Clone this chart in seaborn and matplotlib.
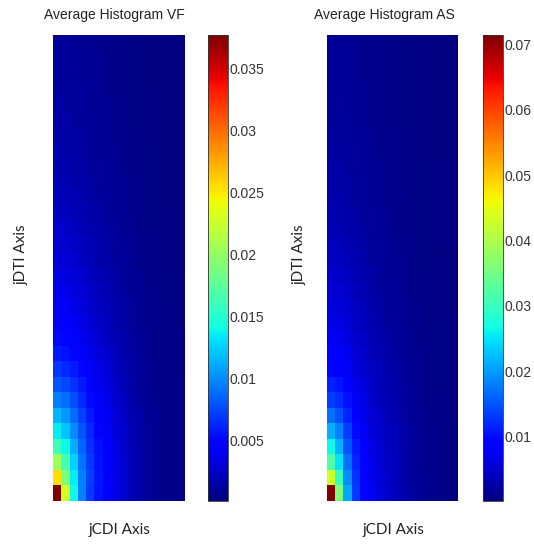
import numpy as np
import seaborn as sns
import matplotlib
matplotlib.use('Agg')
import matplotlib.pyplot as plt

# average 2D histograms in units of 1e-4
# rows go top -> bottom (jDTI), columns left -> right (jCDI)
VF_HIST = [
    [10, 10, 9, 8, 7, 6, 5, 5, 4, 3, 3, 2, 2, 1, 1, 1],
    [10, 10, 9, 9, 8, 7, 6, 5, 4, 3, 3, 2, 2, 2, 1, 1],
    [11, 11, 10, 9, 8, 7, 6, 5, 4, 4, 3, 2, 2, 2, 1, 1],
    [12, 11, 11, 10, 9, 7, 6, 5, 5, 4, 3, 3, 2, 2, 1, 1],
    [13, 12, 11, 10, 9, 8, 7, 6, 5, 4, 3, 3, 2, 2, 1, 1],
    [14, 13, 12, 11, 10, 8, 7, 6, 5, 4, 3, 3, 2, 2, 1, 1],
    [15, 14, 13, 12, 10, 9, 8, 6, 5, 4, 4, 3, 2, 2, 2, 1],
    [16, 15, 14, 13, 11, 9, 8, 7, 6, 5, 4, 3, 3, 2, 2, 1],
    [17, 16, 15, 14, 12, 10, 9, 7, 6, 5, 4, 3, 3, 2, 2, 1],
    [19, 18, 17, 15, 13, 11, 9, 8, 7, 6, 4, 4, 3, 2, 2, 1],
    [21, 20, 19, 17, 14, 12, 10, 9, 7, 6, 5, 4, 3, 2, 2, 2],
    [23, 22, 20, 18, 16, 13, 11, 9, 8, 6, 5, 4, 3, 3, 2, 2],
    [26, 25, 23, 20, 17, 15, 12, 10, 8, 7, 5, 4, 3, 3, 2, 2],
    [28, 27, 25, 22, 19, 16, 13, 11, 9, 7, 6, 5, 4, 3, 2, 2],
    [31, 29, 27, 24, 21, 17, 15, 12, 10, 8, 6, 5, 4, 3, 2, 2],
    [34, 32, 30, 26, 23, 19, 16, 13, 11, 9, 7, 5, 4, 3, 3, 2],
    [38, 36, 33, 29, 25, 21, 18, 15, 12, 9, 7, 6, 4, 3, 3, 2],
    [42, 40, 36, 32, 27, 23, 19, 16, 13, 10, 8, 6, 5, 4, 3, 2],
    [47, 44, 40, 35, 30, 25, 21, 17, 14, 11, 8, 6, 5, 4, 3, 2],
    [52, 49, 45, 39, 33, 28, 23, 19, 15, 12, 9, 7, 5, 4, 3, 3],
    [58, 55, 50, 44, 37, 31, 26, 21, 17, 13, 10, 7, 5, 4, 3, 3],
    [68, 64, 58, 50, 42, 35, 29, 23, 18, 14, 10, 8, 6, 4, 3, 3],
    [80, 75, 67, 57, 47, 39, 32, 26, 20, 15, 11, 8, 6, 5, 4, 3],
    [95, 88, 77, 64, 52, 43, 35, 28, 22, 17, 12, 9, 6, 5, 4, 3],
    [115, 104, 88, 72, 58, 47, 38, 31, 24, 18, 13, 9, 7, 5, 4, 3],
    [135, 120, 100, 80, 63, 50, 41, 33, 26, 19, 14, 10, 7, 5, 4, 3],
    [160, 140, 112, 86, 67, 53, 43, 35, 27, 20, 14, 10, 7, 5, 4, 3],
    [205, 165, 125, 92, 70, 55, 45, 36, 28, 21, 15, 10, 7, 5, 4, 3],
    [255, 190, 135, 95, 72, 56, 45, 36, 28, 21, 15, 10, 7, 5, 4, 3],
    [377, 230, 140, 95, 70, 55, 45, 35, 28, 21, 14, 10, 7, 5, 4, 3],
]

AS_HIST = [
    [16, 16, 15, 14, 12, 11, 10, 8, 7, 6, 5, 4, 3, 3, 2, 2],
    [17, 16, 16, 14, 13, 11, 10, 9, 7, 6, 5, 4, 4, 3, 2, 2],
    [18, 17, 16, 15, 13, 12, 10, 9, 8, 7, 5, 4, 4, 3, 2, 2],
    [19, 18, 17, 16, 14, 12, 11, 9, 8, 7, 6, 5, 4, 3, 2, 2],
    [20, 19, 18, 16, 15, 13, 11, 10, 8, 7, 6, 5, 4, 3, 3, 2],
    [21, 20, 19, 17, 15, 13, 12, 10, 9, 7, 6, 5, 4, 3, 3, 2],
    [22, 21, 20, 18, 16, 14, 12, 11, 9, 8, 6, 5, 4, 3, 3, 2],
    [24, 23, 22, 20, 17, 15, 13, 11, 10, 8, 7, 5, 4, 4, 3, 2],
    [26, 25, 23, 21, 18, 16, 14, 12, 10, 8, 7, 6, 5, 4, 3, 2],
    [28, 27, 25, 22, 19, 17, 14, 12, 10, 9, 7, 6, 5, 4, 3, 2],
    [31, 30, 27, 24, 21, 18, 15, 13, 11, 9, 7, 6, 5, 4, 3, 3],
    [34, 32, 29, 26, 22, 19, 16, 14, 12, 10, 8, 6, 5, 4, 3, 3],
    [37, 35, 32, 28, 24, 20, 17, 15, 12, 10, 8, 7, 5, 4, 3, 3],
    [41, 39, 35, 30, 26, 22, 19, 16, 13, 11, 9, 7, 6, 4, 4, 3],
    [45, 43, 38, 33, 28, 24, 20, 17, 14, 11, 9, 7, 6, 5, 4, 3],
    [50, 47, 42, 36, 31, 26, 22, 18, 15, 12, 10, 8, 6, 5, 4, 3],
    [56, 53, 47, 40, 34, 28, 24, 20, 16, 13, 10, 8, 6, 5, 4, 3],
    [61, 58, 51, 44, 37, 31, 26, 21, 17, 14, 11, 9, 7, 5, 4, 3],
    [68, 64, 56, 48, 40, 33, 28, 23, 19, 15, 12, 9, 7, 6, 5, 4],
    [75, 70, 62, 52, 44, 36, 30, 25, 20, 16, 13, 10, 8, 6, 5, 4],
    [85, 79, 69, 57, 48, 40, 33, 27, 22, 18, 14, 11, 8, 6, 5, 4],
    [96, 89, 77, 63, 52, 44, 36, 30, 24, 19, 15, 11, 9, 7, 5, 4],
    [115, 105, 88, 71, 58, 48, 40, 33, 26, 21, 16, 12, 9, 7, 5, 4],
    [135, 122, 100, 79, 64, 52, 43, 35, 28, 22, 17, 13, 10, 8, 6, 4],
    [170, 148, 117, 89, 71, 57, 47, 38, 31, 24, 18, 14, 10, 8, 6, 4],
    [215, 180, 135, 99, 77, 62, 50, 41, 33, 26, 19, 14, 11, 8, 6, 5],
    [265, 215, 152, 108, 83, 66, 53, 43, 34, 27, 20, 15, 11, 8, 6, 5],
    [320, 250, 170, 117, 88, 69, 56, 45, 36, 28, 21, 15, 11, 9, 7, 5],
    [430, 300, 190, 125, 92, 72, 58, 47, 37, 29, 21, 16, 12, 9, 7, 5],
    [714, 360, 210, 130, 95, 75, 60, 48, 38, 30, 22, 16, 12, 9, 7, 5],
]

VF_TICKS = [0.005, 0.01, 0.015, 0.02, 0.025, 0.03, 0.035]
VF_LABELS = ['0.005', '0.01', '0.015', '0.02', '0.025', '0.03', '0.035']
AS_TICKS = [0.01, 0.02, 0.03, 0.04, 0.05, 0.06, 0.07]
AS_LABELS = ['0.01', '0.02', '0.03', '0.04', '0.05', '0.06', '0.07']

TITLES = ['Average Histogram VF', 'Average Histogram AS']
XLABEL = 'jCDI Axis'
YLABEL = 'jDTI Axis'

sns.set_style('white')
plt.rcParams['font.family'] = ['Liberation Sans', 'DejaVu Sans']

W, H = 534, 544
fig = plt.figure(figsize=(W / 100, H / 100), dpi=100)


def px_axes(x0, x1, y0, y1):
    return fig.add_axes([x0 / W, (H - y1) / H, (x1 - x0) / W, (y1 - y0) / H])


panels = [
    (VF_HIST, VF_TICKS, VF_LABELS, (53, 185), (208, 228), 22, 120, 114),
    (AS_HIST, AS_TICKS, AS_LABELS, (327, 458), (483, 503), 300, 393, 384),
]

for i, (hist, ticks, labels, hx, cx, ylab_x, xlab_x, title_x) in enumerate(panels):
    ax = px_axes(hx[0], hx[1], 35, 501)
    cax = px_axes(cx[0], cx[1], 35, 501)
    data = np.array(hist) * 1e-4
    sns.heatmap(data, cmap='jet', ax=ax, cbar_ax=cax,
                xticklabels=False, yticklabels=False)

    cbar = ax.collections[0].colorbar
    cbar.set_ticks(ticks)
    cbar.set_ticklabels(labels)
    cbar.outline.set_visible(True)
    cbar.outline.set_edgecolor('#333333')
    cbar.outline.set_linewidth(0.6)
    cax.tick_params(direction='in', left=True, right=True, length=3,
                    width=0.6, labelsize=10, labelcolor='#333333', pad=1)

    fig.text(title_x / W, 1 - 15 / H, TITLES[i], ha='center', va='center',
             fontsize=10, color='#222222')
    fig.text(ylab_x / W, 1 - 255 / H, YLABEL, rotation=90, ha='center', va='center',
             fontsize=11, family=['Lato', 'DejaVu Sans'], color='#222222')
    fig.text(xlab_x / W, 1 - 530 / H, XLABEL, ha='center', va='center',
             fontsize=11, family=['Lato', 'DejaVu Sans'], color='#222222')

fig.savefig('out.png', dpi=100)
